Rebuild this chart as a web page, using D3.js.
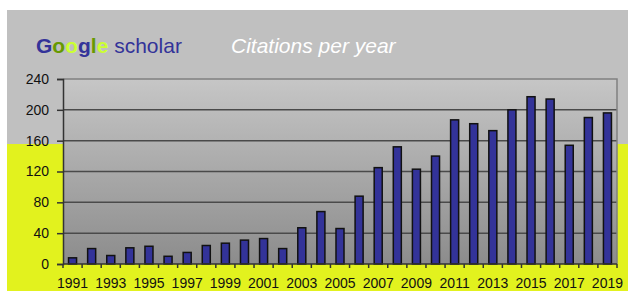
<!DOCTYPE html>
<html>
<head>
<meta charset="utf-8">
<script src="https://cdn.jsdelivr.net/npm/d3@7"></script>
<style>
  body { margin: 0; background: #fff; }
  svg { display: block; }
</style>
</head>
<body>
<svg id="chart" width="628" height="295"></svg>
<script>
// citations per year
var years = d3.range(1991, 2020);
var citations = [8, 20, 11, 21, 23, 10, 15, 24, 27, 31, 33, 20, 47, 68,
  46, 88, 125, 152, 123, 140, 187, 182, 173, 200, 217, 214, 154, 190, 196];
var yTicks = [0, 40, 80, 120, 160, 200, 240];
var titleParts = [
  { t: "G", c: "#333399" }, { t: "o", c: "#669900" }, { t: "o", c: "#ccff33" },
  { t: "g", c: "#333399" }, { t: "l", c: "#669900" }, { t: "e", c: "#ccff33" }
];

var svg = d3.select("#chart");
var plotL = 63, plotR = 617, plotT = 79, plotB = 264;

// backdrop
svg.append("rect").attr("x", 7).attr("y", 10).attr("width", 621).attr("height", 281)
  .attr("fill", "#c0c0c0");
svg.append("rect").attr("x", 7).attr("y", 144).attr("width", 621).attr("height", 147)
  .attr("fill", "#e2f21e");

var grad = svg.append("defs").append("linearGradient")
  .attr("id", "plotbg").attr("x1", 0).attr("y1", 0).attr("x2", 0).attr("y2", 1);
grad.append("stop").attr("offset", "0%").attr("stop-color", "#c6c6c6");
grad.append("stop").attr("offset", "100%").attr("stop-color", "#8c8c8c");

svg.append("rect").attr("x", plotL).attr("y", plotT)
  .attr("width", plotR - plotL).attr("height", plotB - plotT)
  .attr("fill", "url(#plotbg)");

// title
var t1 = svg.append("text").attr("x", 36).attr("y", 53)
  .style("font-family", "Liberation Sans, Arial, sans-serif").style("font-size", "21px");
titleParts.forEach(function(p) {
  t1.append("tspan").attr("fill", p.c).style("font-weight", "bold").text(p.t);
});
t1.append("tspan").attr("fill", "#333399").text(" scholar");

svg.append("text").attr("x", 231).attr("y", 53)
  .style("font-family", "Liberation Sans, Arial, sans-serif").style("font-size", "21px")
  .style("font-style", "italic").attr("fill", "#fff")
  .text("Citations per year");

var x = d3.scaleBand().domain(years).range([plotL, plotR])
  .paddingInner(0.58).paddingOuter(0.29);
var y = d3.scaleLinear().domain([0, 240]).range([plotB, plotT]);

// grid
svg.append("g").selectAll("line").data(yTicks.slice(1, -1)).join("line")
  .attr("x1", plotL).attr("x2", plotR)
  .attr("y1", function(d) { return y(d); }).attr("y2", function(d) { return y(d); })
  .attr("stroke", "#4a4a4a").attr("stroke-width", 1.5);

// frame top/right
svg.append("path")
  .attr("d", "M" + plotL + "," + plotT + "H" + plotR + "V" + plotB)
  .attr("fill", "none").attr("stroke", "#808080").attr("stroke-width", 1.5);

// bars
svg.append("g").selectAll("rect").data(citations).join("rect")
  .attr("x", function(d, i) { return x(years[i]); })
  .attr("y", function(d) { return y(d); })
  .attr("width", x.bandwidth())
  .attr("height", function(d) { return plotB - y(d); })
  .attr("fill", "#333399")
  .attr("stroke", "#111").attr("stroke-width", 1.5);

// y axis
var yAxis = svg.append("g").attr("transform", "translate(" + plotL + ",0)")
  .call(d3.axisLeft(y).tickValues(yTicks).tickSize(6).tickPadding(8));
yAxis.select(".domain").attr("stroke", "#333").attr("stroke-width", 1.5);
yAxis.selectAll(".tick line").attr("stroke", "#333").attr("stroke-width", 1.5);
yAxis.selectAll("text").attr("fill", "#111")
  .style("font-family", "Liberation Sans, Arial, sans-serif").style("font-size", "14px");

// x axis: ticks at band edges, labels every other year
var step = x.step();
var edges = d3.range(years.length + 1).map(function(i) { return plotL + i * step; });
var xg = svg.append("g");
xg.append("line").attr("x1", plotL).attr("x2", plotR).attr("y1", plotB).attr("y2", plotB)
  .attr("stroke", "#333").attr("stroke-width", 1.5);
xg.selectAll(".tk").data(edges).join("line").attr("class", "tk")
  .attr("x1", function(d) { return d; }).attr("x2", function(d) { return d; })
  .attr("y1", plotB).attr("y2", plotB + 4)
  .attr("stroke", "#333").attr("stroke-width", 1.5);
xg.selectAll("text").data(years.filter(function(d) { return (d - 1991) % 2 === 0; }))
  .join("text")
  .attr("x", function(d) { return x(d) + x.bandwidth() / 2; })
  .attr("y", 288)
  .attr("text-anchor", "middle")
  .attr("fill", "#111")
  .style("font-family", "Liberation Sans Narrow, Arial Narrow, sans-serif")
  .style("font-size", "14px")
  .text(function(d) { return d; });
</script>
</body>
</html>
